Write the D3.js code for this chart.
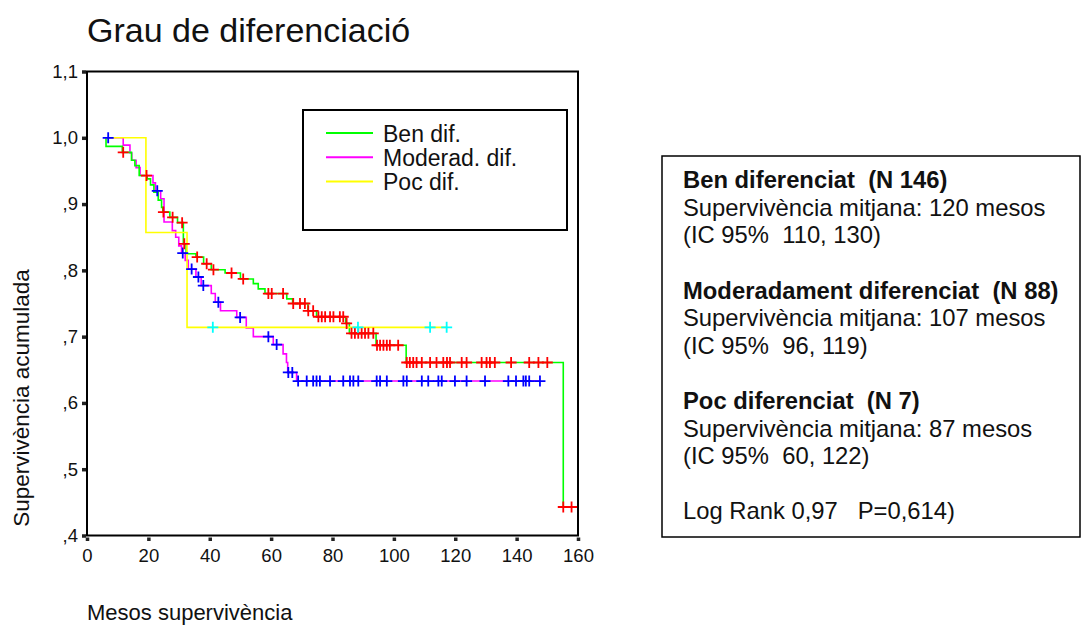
<!DOCTYPE html>
<html>
<head>
<meta charset="utf-8">
<script src="https://cdn.jsdelivr.net/npm/d3@7/dist/d3.min.js"></script>
<style>
  html, body { margin: 0; padding: 0; background: #fff; }
  svg { display: block; font-family: "Liberation Sans", Arial, Helvetica, sans-serif; }
  text { fill: #111; }
</style>
</head>
<body>
<svg id="chart" width="1082" height="625"></svg>
<script>
// Axis ticks
const xTicks = [0, 20, 40, 60, 80, 100, 120, 140, 160];
const yTicks = [0.4, 0.5, 0.6, 0.7, 0.8, 0.9, 1.0, 1.1];
const yTickLabels = [",4", ",5", ",6", ",7", ",8", ",9", "1,0", "1,1"];

// Ben diferenciat: step times (months) and survival after each step
const benTime = [5.9, 6.2, 11.5, 14.5, 15.6, 17.0, 19.6, 20.7, 21.8, 23.2, 24.3, 24.7, 27.0, 29.5, 31.4, 32.3, 35.5, 38.0, 40.5, 45.0, 50.0, 54.2, 55.8, 58.0, 65.1, 67.0, 72.0, 74.8, 84.3, 85.5, 94.2, 104.0, 155.2];
const benSurv = [1.0, 0.987, 0.978, 0.966, 0.958, 0.943, 0.938, 0.929, 0.918, 0.906, 0.895, 0.888, 0.880, 0.872, 0.840, 0.825, 0.820, 0.810, 0.801, 0.796, 0.787, 0.780, 0.772, 0.765, 0.757, 0.750, 0.739, 0.730, 0.720, 0.705, 0.687, 0.661, 0.443];
const benCensored = [11.8, 19.4, 24.9, 27.9, 31.0, 31.7, 35.9, 39.0, 41.2, 47.1, 50.9, 59.1, 60.2, 63.9, 67.2, 69.4, 71.0, 72.1, 73.7, 75.4, 76.5, 77.6, 79.2, 80.3, 82.4, 83.5, 84.6, 86.2, 87.3, 88.4, 89.5, 90.6, 91.7, 93.3, 94.5, 95.5, 96.6, 97.7, 98.7, 101.4, 104.2, 105.2, 106.3, 107.4, 109.1, 111.8, 113.9, 116.1, 117.3, 118.3, 122.1, 123.7, 128.6, 130.2, 131.3, 132.9, 138.2, 144.1, 147.1, 150.0, 155.2, 157.9];

// Moderadament diferenciat
const modTime = [5.9, 11.8, 14.0, 14.6, 16.0, 17.3, 21.5, 22.3, 24.0, 25.1, 27.8, 28.9, 29.9, 30.8, 32.0, 33.0, 35.5, 37.2, 40.5, 41.8, 43.5, 48.8, 51.9, 54.2, 60.7, 63.9, 65.0, 65.4, 68.3];
const modSurv = [1.0, 0.989, 0.977, 0.966, 0.955, 0.943, 0.932, 0.920, 0.908, 0.873, 0.860, 0.850, 0.837, 0.826, 0.815, 0.802, 0.790, 0.777, 0.765, 0.752, 0.739, 0.729, 0.713, 0.700, 0.688, 0.674, 0.661, 0.646, 0.633];
const modCensored = [6.9, 22.9, 31.2, 34.1, 36.3, 37.9, 42.8, 49.9, 59.1, 61.8, 65.6, 66.9, 68.8, 71.6, 73.7, 74.8, 75.9, 79.2, 83.5, 85.7, 86.8, 88.4, 94.4, 95.5, 97.7, 103.1, 104.2, 109.1, 111.2, 114.5, 115.6, 119.9, 123.7, 129.7, 137.3, 139.8, 142.2, 143.0, 144.1, 147.6];

// Poc diferenciat
const pocTime = [5.9, 19.2, 32.6];
const pocSurv = [1.0, 0.857, 0.714];
const pocCensored = [41.0, 88.3, 111.8, 117.2];

// Legend and summary text
const legendLabels = ["Ben dif.", "Moderad. dif.", "Poc dif."];
const groupTitles = ["Ben diferenciat  (N 146)", "Moderadament diferenciat  (N 88)", "Poc diferenciat  (N 7)"];
const groupMeans = ["Supervivència mitjana: 120 mesos", "Supervivència mitjana: 107 mesos", "Supervivència mitjana: 87 mesos"];
const groupCIs = ["(IC 95%  110, 130)", "(IC 95%  96, 119)", "(IC 95%  60, 122)"];
const testLine = "Log Rank 0,97   P=0,614)";

const lineColors = ["#00ff00", "#ff00ff", "#ffff00"];
const censorColors = ["#ff0000", "#0000ff", "#00ffff"];

const series = [
  { time: benTime, surv: benSurv, cens: benCensored },
  { time: modTime, surv: modSurv, cens: modCensored },
  { time: pocTime, surv: pocSurv, cens: pocCensored }
];

const svg = d3.select("#chart");
svg.append("rect").attr("width", 1082).attr("height", 625).attr("fill", "#fff");

const x = d3.scaleLinear().domain([0, 160]).range([87, 578]);
const y = d3.scaleLinear().domain([0.4, 1.1]).range([535.5, 71.5]);

// Title
svg.append("text").attr("x", 87).attr("y", 42)
  .style("font-size", "34px").text("Grau de diferenciació");

// Axes (small square tick marks)
const yAxis = d3.axisLeft(y).tickValues(yTicks)
  .tickFormat((d, i) => yTickLabels[i]).tickSize(4).tickPadding(4);
const gy = svg.append("g").attr("transform", "translate(86,0)").call(yAxis);
gy.select(".domain").remove();
gy.selectAll(".tick line").attr("stroke", "#222").attr("stroke-width", 3.5);
gy.selectAll(".tick text").style("font-size", "18.5px").attr("fill", "#111")
  .style("font-family", "'Liberation Sans', Arial, sans-serif");

const xAxis = d3.axisBottom(x).tickValues(xTicks).tickSize(3.5).tickPadding(8);
const gx = svg.append("g").attr("transform", "translate(0,537.5)").call(xAxis);
gx.select(".domain").remove();
gx.selectAll(".tick line").attr("stroke", "#222").attr("stroke-width", 3.5);
gx.selectAll(".tick text").style("font-size", "18.5px").attr("fill", "#111")
  .style("font-family", "'Liberation Sans', Arial, sans-serif");

// Plot frame
svg.append("rect").attr("x", x(0)).attr("y", y(1.1))
  .attr("width", x(160) - x(0)).attr("height", y(0.4) - y(1.1))
  .attr("fill", "none").attr("stroke", "#000").attr("stroke-width", 2);

// Axis titles
svg.append("text").attr("transform", "translate(29,398) rotate(-90)")
  .attr("text-anchor", "middle").style("font-size", "22.5px")
  .text("Supervivència acumulada");
svg.append("text").attr("x", 87).attr("y", 620)
  .style("font-size", "22px").text("Mesos supervivència");

// Survival value of a step function at time t
function survAt(s, t) {
  let v = s.surv[0];
  for (let i = 0; i < s.time.length; i++) if (s.time[i] <= t) v = s.surv[i];
  return v;
}

const stepLine = d3.line().x(d => x(d[0])).y(d => y(d[1])).curve(d3.curveStepAfter);

// Curves: moderadament, ben, poc
const drawOrder = [1, 0, 2];
drawOrder.forEach(k => {
  const s = series[k];
  const pts = s.time.map((t, i) => [t, s.surv[i]]);
  const tEnd = Math.max(s.time[s.time.length - 1], d3.max(s.cens));
  pts.push([tEnd, s.surv[s.surv.length - 1]]);
  svg.append("path").datum(pts).attr("d", stepLine)
    .attr("fill", "none").attr("stroke", lineColors[k]).attr("stroke-width", 1.6);
});

// Censored cases
drawOrder.forEach(k => {
  const s = series[k];
  svg.append("g").selectAll("path").data(s.cens).join("path")
    .attr("transform", t => `translate(${x(t)},${y(survAt(s, t))})`)
    .attr("d", "M-5.5,0H5.5M0,-5.5V5.5")
    .attr("stroke", censorColors[k]).attr("stroke-width", 1.8).attr("fill", "none");
});

// Legend
const lg = svg.append("g");
lg.append("rect").attr("x", 303).attr("y", 110).attr("width", 264).attr("height", 120)
  .attr("fill", "#fff").attr("stroke", "#000").attr("stroke-width", 2);
legendLabels.forEach((lab, i) => {
  const ly = 133 + i * 24.3;
  lg.append("line").attr("x1", 326).attr("x2", 373).attr("y1", ly).attr("y2", ly)
    .attr("stroke", lineColors[i]).attr("stroke-width", 2);
  lg.append("text").attr("x", 383).attr("y", ly + 8.5).style("font-size", "23px").text(lab);
});

// Summary box
const info = svg.append("g");
info.append("rect").attr("x", 662).attr("y", 156).attr("width", 418).attr("height", 381)
  .attr("fill", "#fff").attr("stroke", "#000").attr("stroke-width", 1.5);
groupTitles.forEach((tl, i) => {
  const by = 188 + i * 110.5;
  info.append("text").attr("x", 683).attr("y", by).style("font-size", "23.8px")
    .style("font-weight", "bold").style("white-space", "pre").text(tl);
  info.append("text").attr("x", 683).attr("y", by + 27.5).style("font-size", "23.8px")
    .style("white-space", "pre").text(groupMeans[i]);
  info.append("text").attr("x", 683).attr("y", by + 55).style("font-size", "23.8px")
    .style("white-space", "pre").text(groupCIs[i]);
});
info.append("text").attr("x", 683).attr("y", 519).style("font-size", "23.8px")
  .style("white-space", "pre").text(testLine);
</script>
</body>
</html>
